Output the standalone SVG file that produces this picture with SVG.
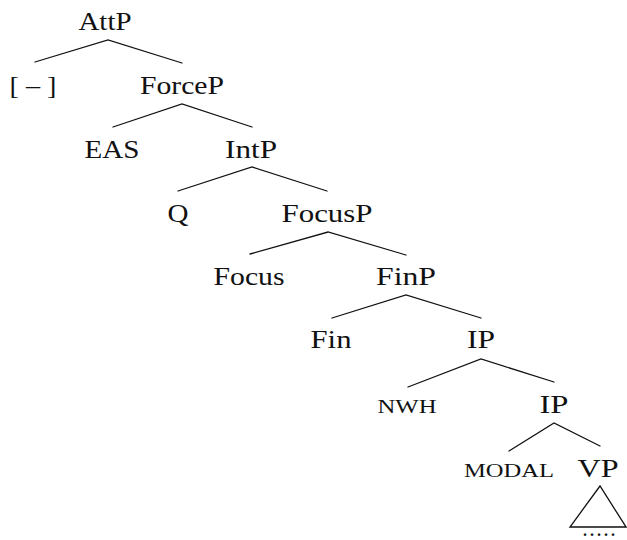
<svg xmlns="http://www.w3.org/2000/svg" width="627" height="540" viewBox="0 0 627 540">
  <style>
    .lbl { font-family: "Liberation Serif", "Times New Roman", serif; font-size: 26px; fill: #111; text-anchor: middle; }
    .sc { font-size: 19px; }
    .dots { font-size: 16px; font-weight: bold; }
    .edge { stroke: #111; stroke-width: 1.3; fill: none; stroke-linecap: round; }
  </style>
  <rect width="627" height="540" fill="#fff"/>

  <!-- branches -->
  <g id="connectors">
    <polyline class="edge" points="35,62 108,40 182,63"/>
    <polyline class="edge" points="113,127 182,104 252,127"/>
    <polyline class="edge" points="178,191 252,167 327,191"/>
    <polyline class="edge" points="250,254 328,232 406,255"/>
    <polyline class="edge" points="332,318 406,295 481,318"/>
    <polyline class="edge" points="408,387 481,359 554,382"/>
    <polyline class="edge" points="509,451 554,423 600,446"/>
    <polygon class="edge" points="600,486 570,527 626,527"/>
  </g>

  <!-- nodes -->
  <g id="n-attp"><text class="lbl" x="105" y="30" textLength="53" lengthAdjust="spacingAndGlyphs">AttP</text></g>
  <g id="n-neg"><text class="lbl" x="33" y="94" textLength="47" lengthAdjust="spacingAndGlyphs">[ – ]</text></g>
  <g id="n-forcep"><text class="lbl" x="182" y="94" textLength="84" lengthAdjust="spacingAndGlyphs">ForceP</text></g>
  <g id="n-eas"><text class="lbl" x="112" y="158" textLength="55" lengthAdjust="spacingAndGlyphs">EAS</text></g>
  <g id="n-intp"><text class="lbl" x="251" y="158" textLength="52" lengthAdjust="spacingAndGlyphs">IntP</text></g>
  <g id="n-q"><text class="lbl" x="178" y="222" textLength="21" lengthAdjust="spacingAndGlyphs">Q</text></g>
  <g id="n-focusp"><text class="lbl" x="327" y="222" textLength="91" lengthAdjust="spacingAndGlyphs">FocusP</text></g>
  <g id="n-focus"><text class="lbl" x="249" y="285" textLength="71" lengthAdjust="spacingAndGlyphs">Focus</text></g>
  <g id="n-finp"><text class="lbl" x="406" y="285" textLength="60" lengthAdjust="spacingAndGlyphs">FinP</text></g>
  <g id="n-fin"><text class="lbl" x="331" y="348" textLength="41" lengthAdjust="spacingAndGlyphs">Fin</text></g>
  <g id="n-ip1"><text class="lbl" x="481" y="348" textLength="28" lengthAdjust="spacingAndGlyphs">IP</text></g>
  <g id="n-nwh"><text class="lbl sc" x="407" y="413" textLength="59" lengthAdjust="spacingAndGlyphs">NWH</text></g>
  <g id="n-ip2"><text class="lbl" x="554" y="413" textLength="29" lengthAdjust="spacingAndGlyphs">IP</text></g>
  <g id="n-modal"><text class="lbl sc" x="509" y="477" textLength="90" lengthAdjust="spacingAndGlyphs">MODAL</text></g>
  <g id="n-vp"><text class="lbl" x="598" y="477" textLength="41" lengthAdjust="spacingAndGlyphs">VP</text></g>
  <g id="n-dots"><text class="lbl dots" x="599" y="536" textLength="32" lengthAdjust="spacing">.....</text></g>
</svg>
